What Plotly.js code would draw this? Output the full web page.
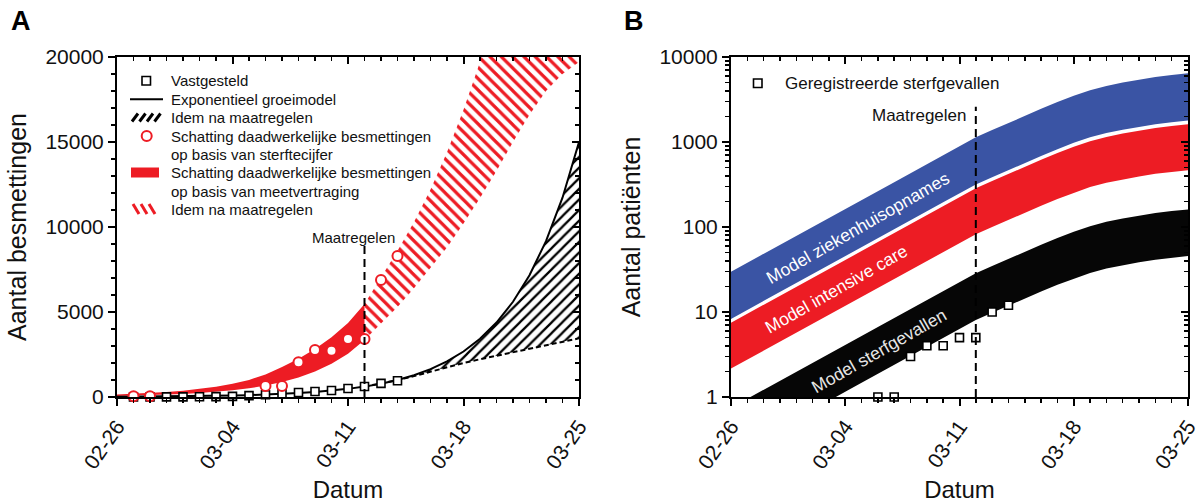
<!DOCTYPE html>
<html><head><meta charset="utf-8">
<script src="https://cdn.plot.ly/plotly-3.0.1.min.js"></script>
<style>html,body{margin:0;padding:0;background:#fff;overflow:hidden}#chart{width:1203px;height:503px}</style>
</head><body><div id="chart"></div>
<script>
// ---------- data ----------
const dates = ['2020-02-26','2020-02-27','2020-02-28','2020-02-29','2020-03-01','2020-03-02','2020-03-03',
  '2020-03-04','2020-03-05','2020-03-06','2020-03-07','2020-03-08','2020-03-09','2020-03-10','2020-03-11',
  '2020-03-12','2020-03-13','2020-03-14','2020-03-15','2020-03-16','2020-03-17','2020-03-18','2020-03-19',
  '2020-03-20','2020-03-21','2020-03-22','2020-03-23','2020-03-24','2020-03-25'];
const measuresDate = '2020-03-12';
const tickDates = ['2020-02-26','2020-03-04','2020-03-11','2020-03-18','2020-03-25'];
const tickLabels = ['02-26','03-04','03-11','03-18','03-25'];
const yTicksA = [0, 5000, 10000, 15000, 20000];
const yTickLabelsA = ['0', '5000', '10000', '15000', '20000'];
const yTicksB = [1, 10, 100, 1000, 10000];
const yTickLabelsB = ['1', '10', '100', '1000', '10000'];

// Panel A
const confirmedDates = dates.slice(1, 18);
const confirmedCases = [1, 2, 7, 10, 18, 24, 38, 82, 128, 188, 265, 321, 382, 503, 614, 804, 959];
const expModel = [15, 19, 25, 32, 41, 52, 66, 85, 109, 139, 178, 228, 292, 373, 478, 611, 782, 1000,
  1279, 1636, 2093, 2677, 3424, 4380, 5602, 7166, 9166, 11725, 15000];
const afterDates = dates.slice(15);
const expAfterMeasures = [611, 782, 990, 1230, 1500, 1760, 2000, 2220, 2430, 2640, 2850, 3050, 3250, 3450];
const deathEstDates = ['2020-02-27','2020-02-28','2020-03-06','2020-03-07','2020-03-08','2020-03-09',
  '2020-03-10','2020-03-11','2020-03-12','2020-03-13','2020-03-14'];
const deathEstimate = [40, 40, 650, 650, 2040, 2760, 2720, 3410, 3410, 6880, 8290];
const beforeDates = dates.slice(0, 16);
const delayLower = [60, 80, 100, 130, 170, 230, 300, 390, 510, 670, 880, 1150, 1500, 1950, 2550, 3350];
const delayUpper = [140, 180, 230, 290, 370, 480, 610, 780, 1000, 1330, 1760, 2250, 2830, 3520, 4350, 5470];
const delayLowerAfter = [3350, 4300, 5300, 6400, 7600, 8800, 10200, 11700, 13300, 15000, 16600, 18000, 19000, 19700];
const delayUpperAfter = [5470, 7000, 8600, 10300, 12200, 14400, 16900, 19700, 22800, 26000, 29500, 33000, 37000, 41000];

// Panel B
const deathDates = dates.slice(9, 18);
const registeredDeaths = [1, 1, 3, 4, 4, 5, 5, 10, 12];
const hospUpper = [29.8, 37.9, 48.4, 61.7, 78.7, 100, 128, 163, 208, 265, 337, 430, 548, 698, 891, 1135,
  1380, 1680, 2040, 2455, 2950, 3510, 4070, 4570, 5010, 5430, 5820, 6140, 6430];
const hospLower = [8.3, 10.6, 13.5, 17.2, 21.9, 27.9, 35.6, 45.4, 57.8, 73.8, 94, 120, 153, 195, 248, 316,
  385, 468, 569, 684, 822, 977, 1135, 1273, 1396, 1514, 1622, 1710, 1791];
const icUpper = [7.49, 9.52, 12.2, 15.5, 19.8, 25.2, 32.1, 40.9, 52.1, 66.5, 84.7, 108, 138, 175, 224, 285,
  347, 422, 513, 617, 741, 881, 1023, 1148, 1259, 1365, 1462, 1542, 1614];
const icLower = [2.16, 2.75, 3.51, 4.47, 5.70, 7.26, 9.24, 11.8, 15.0, 19.2, 24.4, 31.1, 39.7, 50.6, 64.6, 82.2,
  100, 122, 148, 178, 214, 254, 295, 331, 363, 394, 422, 445, 466];
const deathUpper = [0.749, 0.952, 1.22, 1.55, 1.98, 2.52, 3.21, 4.09, 5.21, 6.65, 8.47, 10.8, 13.8, 17.5, 22.4, 28.5,
  34.7, 42.2, 51.3, 61.7, 74.1, 88.1, 102, 115, 126, 137, 146, 154, 161];
const deathLower = [0.211, 0.268, 0.343, 0.437, 0.557, 0.709, 0.903, 1.15, 1.47, 1.88, 2.39, 3.04, 3.88, 4.94, 6.31, 8.04,
  9.77, 11.9, 14.5, 17.4, 20.9, 24.8, 28.8, 32.4, 35.5, 38.5, 41.2, 43.5, 45.5];

// ---------- styling ----------
const W = 1203, H = 503;
const px = v => v / W, py = v => 1 - v / H;
const RED = '#ED1C24', BLUE = '#3A54A4', BLACK = '#060606';
const FONT = 'Liberation Sans, Arial, Helvetica, sans-serif';
const none = {width: 0};

const traces = [
  // Panel A: red band (delay based)
  {x: beforeDates, y: delayLower, xaxis: 'x', yaxis: 'y', mode: 'lines', line: none, hoverinfo: 'skip'},
  {x: beforeDates, y: delayUpper, xaxis: 'x', yaxis: 'y', mode: 'lines', line: none, fill: 'tonexty', fillcolor: RED, hoverinfo: 'skip'},
  {x: afterDates, y: delayLowerAfter, xaxis: 'x', yaxis: 'y', mode: 'lines', line: none, hoverinfo: 'skip'},
  {x: afterDates, y: delayUpperAfter, xaxis: 'x', yaxis: 'y', mode: 'lines', line: none, fill: 'tonexty',
   fillcolor: 'rgba(0,0,0,0)', fillpattern: {shape: '\\', fgcolor: RED, bgcolor: 'rgba(255,255,255,0)', size: 8, solidity: 0.4}, hoverinfo: 'skip'},
  // black hatched after measures
  {x: afterDates, y: expAfterMeasures, xaxis: 'x', yaxis: 'y', mode: 'lines', line: {color: '#000', width: 2, dash: '5px,3px'}},
  {x: afterDates, y: expModel.slice(15), xaxis: 'x', yaxis: 'y', mode: 'lines', line: none, fill: 'tonexty',
   fillcolor: 'rgba(0,0,0,0)', fillpattern: {shape: '/', fgcolor: '#000', bgcolor: 'rgba(255,255,255,0)', size: 7.5, solidity: 0.3}, hoverinfo: 'skip'},
  {x: dates, y: expModel, xaxis: 'x', yaxis: 'y', mode: 'lines', line: {color: '#000', width: 2}},
  {x: confirmedDates, y: confirmedCases, xaxis: 'x', yaxis: 'y', mode: 'markers', cliponaxis: false,
   marker: {symbol: 'square', size: 8, color: '#fff', line: {color: '#000', width: 1.6}}},
  {x: deathEstDates, y: deathEstimate, xaxis: 'x', yaxis: 'y', mode: 'markers', cliponaxis: false,
   marker: {symbol: 'circle', size: 10, color: '#fff', line: {color: RED, width: 2}}},
  // Panel B bands
  {x: dates, y: hospLower, xaxis: 'x2', yaxis: 'y2', mode: 'lines', line: none, hoverinfo: 'skip'},
  {x: dates, y: hospUpper, xaxis: 'x2', yaxis: 'y2', mode: 'lines', line: none, fill: 'tonexty', fillcolor: BLUE},
  {x: dates, y: icLower, xaxis: 'x2', yaxis: 'y2', mode: 'lines', line: none, hoverinfo: 'skip'},
  {x: dates, y: icUpper, xaxis: 'x2', yaxis: 'y2', mode: 'lines', line: none, fill: 'tonexty', fillcolor: RED},
  {x: dates, y: deathLower, xaxis: 'x2', yaxis: 'y2', mode: 'lines', line: none, hoverinfo: 'skip'},
  {x: dates, y: deathUpper, xaxis: 'x2', yaxis: 'y2', mode: 'lines', line: none, fill: 'tonexty', fillcolor: BLACK},
  {x: deathDates, y: registeredDeaths, xaxis: 'x2', yaxis: 'y2', mode: 'markers', cliponaxis: false,
   marker: {symbol: 'square', size: 8, color: '#fff', line: {color: '#000', width: 1.6}}},
  // dummy traces for inside mirror axes
  {x: [], y: [], xaxis: 'x3', yaxis: 'y3', mode: 'markers'},
  {x: [], y: [], xaxis: 'x4', yaxis: 'y4', mode: 'markers'}
];

const DAY = 86400000;
function xAxis(domain, anchor, title) {
  return {domain, anchor, type: 'date', range: [dates[0], dates[dates.length - 1]],
    tickmode: 'array', tickvals: tickDates, ticktext: tickLabels, tickangle: -55,
    ticks: 'outside', ticklen: 7, tickwidth: 2, tickcolor: '#000',
    minor: {ticks: 'outside', ticklen: 4, tickwidth: 1.5, tickcolor: '#000', dtick: DAY, tick0: dates[0], showgrid: false},
    showline: true, linewidth: 2, linecolor: '#000', mirror: true, showgrid: false, zeroline: false,
    tickfont: {family: FONT, size: 21, color: '#111'},
    title: {text: title, font: {family: FONT, size: 24, color: '#111'}, standoff: 9}};
}
function xMirror(over, anchor) {
  return {overlaying: over, anchor, side: 'top', type: 'date', range: [dates[0], dates[dates.length - 1]],
    tickmode: 'array', tickvals: tickDates, ticks: 'inside', ticklen: 7, tickwidth: 2, tickcolor: '#000',
    minor: {ticks: 'inside', ticklen: 4, tickwidth: 1.5, tickcolor: '#000', dtick: DAY, tick0: dates[0], showgrid: false},
    showticklabels: false, showline: false, showgrid: false, zeroline: false};
}

const layout = {
  width: W, height: H, margin: {l: 0, r: 0, t: 0, b: 0},
  paper_bgcolor: '#fff', plot_bgcolor: 'rgba(0,0,0,0)', showlegend: false,
  font: {family: FONT, color: '#111'},
  xaxis: xAxis([px(117), px(579)], 'y', 'Datum'),
  yaxis: {domain: [py(397), py(57)], anchor: 'x', range: [0, 20000], tickmode: 'array',
    tickvals: yTicksA, ticktext: yTickLabelsA,
    ticks: 'outside', ticklen: 7, tickwidth: 2, tickcolor: '#000',
    minor: {ticks: 'outside', ticklen: 4, tickwidth: 1.5, tickcolor: '#000', dtick: 1000, tick0: 0, showgrid: false},
    showline: true, linewidth: 2, linecolor: '#000', mirror: true, showgrid: false, zeroline: false,
    tickfont: {family: FONT, size: 21, color: '#111'},
    title: {text: 'Aantal besmettingen', font: {family: FONT, size: 25, color: '#111'}, standoff: 12}},
  xaxis2: xAxis([px(731), px(1188)], 'y2', 'Datum'),
  yaxis2: {domain: [py(397), py(57)], anchor: 'x2', type: 'log', range: [0, 4],
    tickmode: 'array', tickvals: yTicksB, ticktext: yTickLabelsB,
    ticks: 'outside', ticklen: 7, tickwidth: 2, tickcolor: '#000',
    minor: {ticks: 'outside', ticklen: 4, tickwidth: 1.5, tickcolor: '#000', dtick: 'D1', showgrid: false},
    showline: true, linewidth: 2, linecolor: '#000', mirror: true, showgrid: false, zeroline: false,
    tickfont: {family: FONT, size: 21, color: '#111'},
    title: {text: 'Aantal patiënten', font: {family: FONT, size: 25, color: '#111'}, standoff: 12}},
  xaxis3: xMirror('x', 'y3'),
  yaxis3: {overlaying: 'y', anchor: 'x3', side: 'right', range: [0, 20000], dtick: 5000, tick0: 0,
    ticks: 'inside', ticklen: 7, tickwidth: 2, tickcolor: '#000',
    minor: {ticks: 'inside', ticklen: 4, tickwidth: 1.5, tickcolor: '#000', dtick: 1000, tick0: 0, showgrid: false},
    showticklabels: false, showline: false, showgrid: false, zeroline: false},
  xaxis4: xMirror('x2', 'y4'),
  yaxis4: {overlaying: 'y2', anchor: 'x4', side: 'right', type: 'log', range: [0, 4], dtick: 1,
    ticks: 'inside', ticklen: 7, tickwidth: 2, tickcolor: '#000',
    minor: {ticks: 'inside', ticklen: 4, tickwidth: 1.5, tickcolor: '#000', dtick: 'D1', showgrid: false},
    showticklabels: false, showline: false, showgrid: false, zeroline: false},
  shapes: [],
  annotations: []
};

const S = layout.shapes, A = layout.annotations;
// measures lines
S.push({type: 'line', xref: 'x', yref: 'y domain', x0: measuresDate, x1: measuresDate, y0: 0, y1: 0.447,
  line: {color: '#000', width: 2, dash: '8px,5px'}});
S.push({type: 'line', xref: 'x2', yref: 'y2 domain', x0: measuresDate, x1: measuresDate, y0: 0, y1: 0.854,
  line: {color: '#000', width: 2, dash: '8px,5px'}});
// legend A swatches
const P = (x0, y0, x1, y1) => ({xref: 'paper', yref: 'paper', x0: px(x0), y0: py(y0), x1: px(x1), y1: py(y1)});
S.push(Object.assign({type: 'rect', fillcolor: '#fff', line: {color: '#000', width: 1.6}}, P(142, 76.5, 150.5, 85)));
S.push(Object.assign({type: 'line', line: {color: '#000', width: 2}}, P(130, 99.3, 163, 99.3)));
for (let i = 0; i < 4; i++) S.push(Object.assign({type: 'line', line: {color: '#000', width: 3}}, P(132 + 7.5 * i, 121.5, 138 + 7.5 * i, 113.5)));
S.push(Object.assign({type: 'circle', fillcolor: '#fff', line: {color: RED, width: 2}}, P(141.7, 131, 151.7, 141)));
S.push(Object.assign({type: 'rect', fillcolor: RED, line: {width: 0}}, P(131, 167.5, 159, 177.5)));
for (let i = 0; i < 3; i++) S.push(Object.assign({type: 'line', line: {color: RED, width: 3}}, P(133 + 8 * i, 204, 139 + 8 * i, 214)));
// legend B swatch
S.push(Object.assign({type: 'rect', fillcolor: '#fff', line: {color: '#000', width: 1.6}}, P(753.5, 79, 762, 87.5)));

const T = (text, x, y, size, extra) => Object.assign({text, xref: 'paper', yref: 'paper', x: px(x), y: py(y),
  showarrow: false, xanchor: 'left', yanchor: 'middle', font: {family: FONT, size, color: '#111'}}, extra || {});
A.push(T('<b>A</b>', 21, 21, 27, {xanchor: 'center', font: {family: FONT, size: 27, color: '#000'}}));
A.push(T('<b>B</b>', 634, 21, 27, {xanchor: 'center', font: {family: FONT, size: 27, color: '#000'}}));
const legA = [['Vastgesteld', 80.7], ['Exponentieel groeimodel', 99.2], ['Idem na maatregelen', 117.5],
  ['Schatting daadwerkelijke besmettingen', 136], ['op basis van sterftecijfer', 154.4],
  ['Schatting daadwerkelijke besmettingen', 172.8], ['op basis van meetvertraging', 191], ['Idem na maatregelen', 209.3]];
legA.forEach(([t, y]) => A.push(T(t, 168.5, y, 15)));
A.push(T('Geregistreerde sterfgevallen', 782.5, 83.3, 17));
A.push(T('Maatregelen', 353.5, 237, 15, {xanchor: 'center'}));
A.push(T('Maatregelen', 919.6, 115, 17, {xanchor: 'center'}));
A.push(T('Model ziekenhuisopnames', 857.7, 227.5, 17.5, {xanchor: 'center', textangle: -29.7, font: {family: FONT, size: 17.5, color: '#fff'}}));
A.push(T('Model intensive care', 836.5, 289, 17.5, {xanchor: 'center', textangle: -29.7, font: {family: FONT, size: 17.5, color: '#fff'}}));
A.push(T('Model sterfgevallen', 878.8, 350.8, 17.5, {xanchor: 'center', textangle: -29.7, font: {family: FONT, size: 17.5, color: '#e6e6e6'}}));

Plotly.newPlot('chart', traces, layout, {staticPlot: true, displayModeBar: false});
</script>
</body></html>
